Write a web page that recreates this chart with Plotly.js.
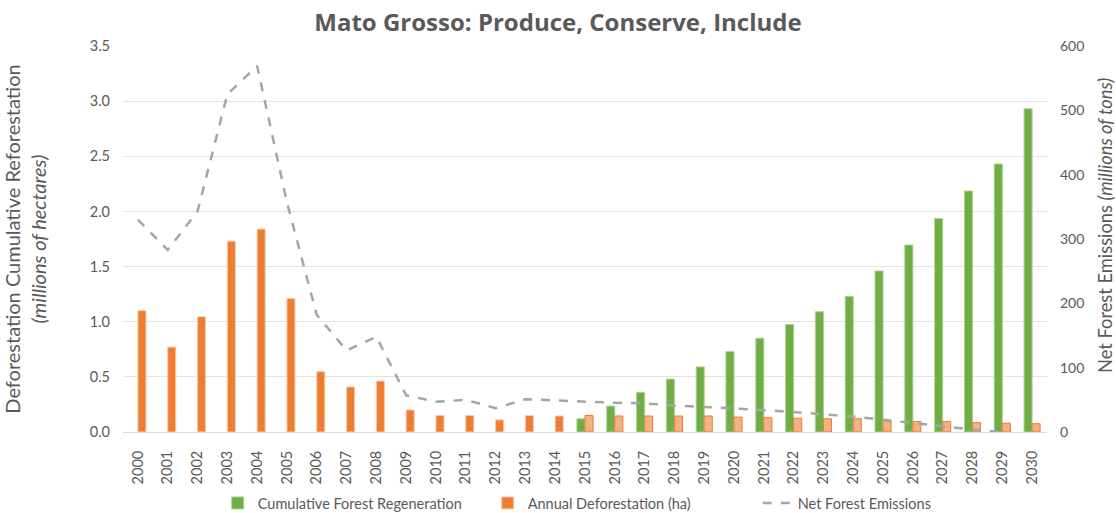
<!DOCTYPE html>
<html>
<head>
<meta charset="utf-8">
<script src="https://cdn.plot.ly/plotly-3.0.1.min.js"></script>
<style>html,body{margin:0;padding:0;background:#fff;}#chart{width:1116px;height:513px;}</style>
</head>
<body>
<div id="chart"></div>
<script>
const years = ['2000','2001','2002','2003','2004','2005','2006','2007','2008','2009','2010','2011','2012','2013','2014','2015','2016','2017','2018','2019','2020','2021','2022','2023','2024','2025','2026','2027','2028','2029','2030'];
const cumulativeRegeneration = [null,null,null,null,null,null,null,null,null,null,null,null,null,null,null,0.12,0.235,0.36,0.48,0.59,0.73,0.85,0.975,1.09,1.23,1.46,1.695,1.935,2.185,2.43,2.93];
const annualDeforestation = [1.10,0.77,1.045,1.73,1.84,1.21,0.547,0.408,0.462,0.20,0.151,0.15,0.11,0.15,0.145,0.15,0.145,0.145,0.145,0.145,0.135,0.13,0.125,0.12,0.12,0.10,0.095,0.095,0.085,0.08,0.075];
const netEmissions = [330,283,343,525,569,357,182,127,148,57,47,50,37,51,49,47,45.5,44.5,41,39,37,34,31,28,24,19,14.5,9,4,0,null];
const projectedFrom = '2015';

const projIdx = years.indexOf(projectedFrom);
const orangeFill = annualDeforestation.map((v,i)=> i>=projIdx ? '#F4B183' : '#ED7D31');
const orangeLine = annualDeforestation.map((v,i)=> i>=projIdx ? '#ED7D31' : '#F8CBAD');

const gray = '#595959';
const fontFam = 'Lato, "Open Sans", Roboto, sans-serif';

const traces = [
  {type:'bar', name:'Cumulative Forest Regeneration', x:years, y:cumulativeRegeneration,
   marker:{color:'#70AD47', line:{color:'#A9D18E', width:1}}},
  {type:'bar', name:'Annual Deforestation (ha)', x:years, y:annualDeforestation,
   marker:{color:orangeFill, line:{color:orangeLine, width:1}}},
  {type:'scatter', mode:'lines', name:'Net Forest Emissions', x:years, y:netEmissions, yaxis:'y2',
   line:{color:'#A5A5A5', width:2.5, dash:'dash'}, connectgaps:false}
];

const layout = {
  width:1116, height:513,
  margin:{l:123, r:69, t:46, b:81},
  paper_bgcolor:'#fff', plot_bgcolor:'#fff',
  font:{family:fontFam, color:gray, size:14},
  title:{text:'<b>Mato Grosso: Produce, Conserve, Include</b>', x:0.5, xanchor:'center', y:0.955, yanchor:'middle',
         font:{size:24, color:gray, family:'"Open Sans", sans-serif'}},
  barmode:'group', bargap:0.46, bargroupgap:0,
  xaxis:{type:'category', tickangle:-90, tickfont:{size:14.5, color:gray}, showgrid:false, automargin:false,
         showline:true, linecolor:'#D9D9D9', ticks:'', zeroline:false, ticklabelstandoff:12},
  yaxis:{range:[0,3.5], dtick:0.5, tickformat:'.1f', gridcolor:'#E3E3E3', gridwidth:1, automargin:false,
         zeroline:false, showline:false, tickfont:{size:14.5, color:gray}, ticks:'', ticklabelstandoff:12,
         title:{text:'Deforestation Cumulative Reforestation<br><i>(millions of hectares)</i>', standoff:40,
                font:{size:20, color:gray}}},
  yaxis2:{range:[0,600], dtick:100, overlaying:'y', side:'right', showgrid:false, zeroline:false, automargin:false,
          tickfont:{size:14, color:gray}, ticks:'', ticklabelstandoff:12},
  annotations:[{text:'Net Forest Emissions <i>(millions of tons)</i>', xref:'paper', yref:'paper',
                x:(1105-123)/924, y:(432-226)/386, xanchor:'center', yanchor:'middle', textangle:-90,
                showarrow:false, font:{size:18.3, color:gray}}],
  showlegend:true,
  legend:{orientation:'h', x:0.558, xref:'container', xanchor:'center', y:(513-503)/513, yref:'container', yanchor:'middle',
          font:{size:14.5, color:gray}, itemwidth:30, entrywidth:225, traceorder:'normal'}
};

Plotly.newPlot('chart', traces, layout, {displayModeBar:false, staticPlot:true});
</script>
</body>
</html>
